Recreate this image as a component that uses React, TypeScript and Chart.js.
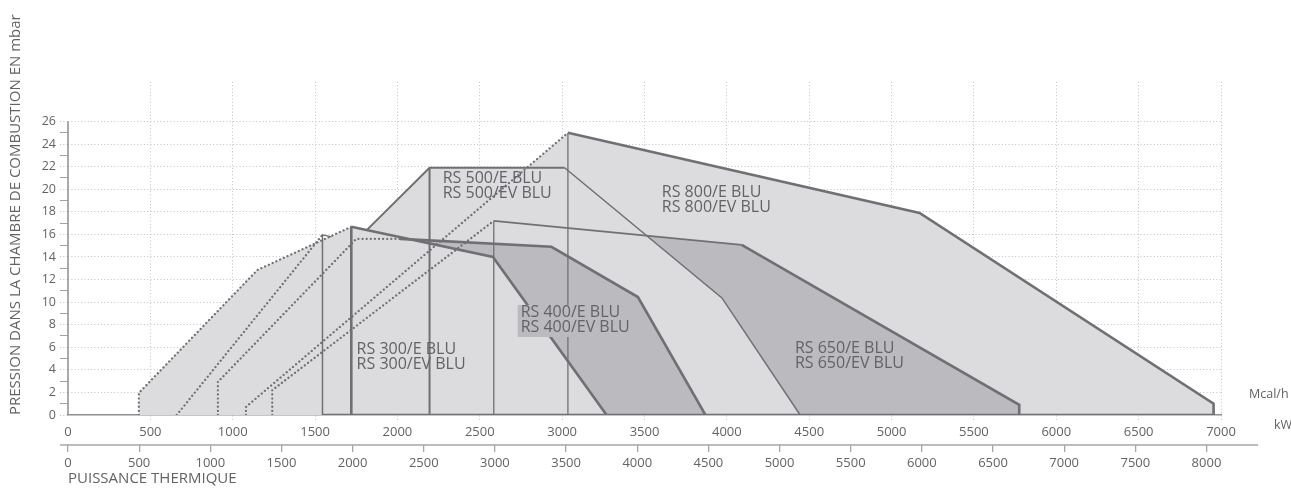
import React, { useEffect, useRef } from 'react';
import { Chart, registerables } from 'chart.js';

Chart.register(...registerables);

// ---- tick labels ----
const mcalTicks = [0, 500, 1000, 1500, 2000, 2500, 3000, 3500, 4000, 4500, 5000, 5500, 6000, 6500, 7000];
const kwTicks = [0, 500, 1000, 1500, 2000, 2500, 3000, 3500, 4000, 4500, 5000, 5500, 6000, 6500, 7000, 7500, 8000];
const pressureTicks = [0, 2, 4, 6, 8, 10, 12, 14, 16, 18, 20, 22, 24, 26];

// ---- working fields (x: Mcal/h, y: mbar) ----
const rs800Field = [[1080, 0], [1080, 0.71], [3035, 25.0], [5170, 17.9], [6955, 1.0], [6955, 0]];
const rs650Field = [[1240, 0], [1240, 2.2], [2585, 17.2], [4090, 15.07], [5775, 0.9], [5775, 0]];
const rs500Field = [[430, 0], [430, 1.95], [1150, 12.85], [1815, 16.4], [2195, 21.9], [3015, 21.9], [3970, 10.37], [4445, 0]];
const rs400Field = [[910, 0], [910, 2.93], [1750, 15.6], [2015, 15.6], [2935, 14.9], [3460, 10.45], [3870, 0]];
const rs300Field = [[430, 0], [430, 1.95], [1150, 12.85], [1720, 16.67], [2580, 14.0], [3270, 0]];

// ---- outlines ----
const rs800Dotted = [[1080, 0], [1080, 0.71], [3035, 25.0]];
const rs800Min = [[3035, 0], [3035, 25.0]];
const rs800Max = [[3035, 25.0], [5170, 17.9], [6955, 1.0], [6955, 0]];
const rs650Dotted = [[1240, 0], [1240, 2.2], [2585, 17.2]];
const rs650Min = [[2585, 0], [2585, 17.2]];
const rs650MaxA = [[2585, 17.2], [4090, 15.07]];
const rs650MaxB = [[4090, 15.07], [5775, 0.9], [5775, 0]];
const rs500Min = [[2195, 0], [2195, 21.9]];
const rs500MaxA = [[1815, 16.4], [2195, 21.9], [3015, 21.9]];
const rs500MaxB = [[3015, 21.9], [3970, 10.37], [4445, 0]];
const rs400Dotted = [[910, 0], [910, 2.93], [1750, 15.6], [2015, 15.6]];
const rs400Max = [[2015, 15.6], [2935, 14.9], [3460, 10.45], [3870, 0]];
const rs300Dotted = [[430, 0], [430, 1.95], [1150, 12.85], [1720, 16.67]];
const rs300EvDotted = [[660, 0], [1545, 15.96]];
const rs300EvMin = [[1545, 0], [1545, 15.96], [1600, 15.78]];
const rs300Min = [[1720, 0], [1720, 16.67]];
const rs300Max = [[1720, 16.67], [2580, 14.0], [3270, 0]];
const baseLine = [[1545, 0], [6955, 0]];

// ---- field labels ----
const labelNames = [
  ['RS 300/E BLU', 'RS 300/EV BLU'],
  ['RS 400/E BLU', 'RS 400/EV BLU'],
  ['RS 500/E BLU', 'RS 500/EV BLU'],
  ['RS 650/E BLU', 'RS 650/EV BLU'],
  ['RS 800/E BLU', 'RS 800/EV BLU'],
];
const labelX = [1752, 2748, 2275, 4413, 3605];
const labelY = [5.8, 9.1, 20.95, 5.9, 19.75];

const LIGHT = '#dcdcdf';
const DARK = '#bbbbbf';
const LINE = '#707074';
const GRID = '#c2c2c5';
const TEXT = '#636367';
const FONT = "'Open Sans', 'DejaVu Sans', sans-serif";

const toPts = (arr: number[][]) => arr.map(([x, y]) => ({ x, y }));

function fillDs(pts: number[][], color: string, order: number) {
  return {
    data: toPts(pts),
    showLine: true,
    fill: 'origin',
    backgroundColor: color,
    borderColor: 'rgba(0,0,0,0)',
    borderWidth: 0,
    pointRadius: 0,
    order,
  };
}

function lineDs(pts: number[][], width: number, order: number, dotted = false) {
  return {
    data: toPts(pts),
    showLine: true,
    fill: false,
    borderColor: LINE,
    borderWidth: width,
    pointRadius: 0,
    order,
    borderDash: dotted ? [0.01, 4.1] : [],
    borderCapStyle: dotted ? 'round' : 'butt',
    borderJoinStyle: 'miter',
  };
}

const decor = {
  id: 'decor',
  afterDatasetsDraw(chart: any) {
    const { ctx, chartArea, scales } = chart;
    const x = scales.x;
    const y = scales.y;
    const x2 = scales.x2;
    ctx.save();
    // y axis line (0..26)
    ctx.strokeStyle = '#8e8e92';
    ctx.lineWidth = 1.5;
    ctx.beginPath();
    ctx.moveTo(chartArea.left, y.getPixelForValue(26));
    ctx.lineTo(chartArea.left, y.getPixelForValue(0));
    ctx.stroke();
    // second axis line
    ctx.strokeStyle = '#a6a6a9';
    ctx.beginPath();
    ctx.moveTo(chartArea.left - 8, x2.top);
    ctx.lineTo(chartArea.right + 37, x2.top);
    ctx.stroke();

    // RS400 label background
    ctx.fillStyle = DARK;
    const bx = x.getPixelForValue(2730);
    const by = y.getPixelForValue(9.75);
    ctx.fillRect(bx, by, x.getPixelForValue(3230) - bx, y.getPixelForValue(6.91) - by);

    // field labels
    ctx.fillStyle = TEXT;
    ctx.font = `16px ${FONT}`;
    ctx.textAlign = 'left';
    ctx.textBaseline = 'middle';
    labelNames.forEach((lines, i) => {
      const px = x.getPixelForValue(labelX[i]);
      const py = y.getPixelForValue(labelY[i]);
      lines.forEach((t, j) => ctx.fillText(t, px, py + j * 15));
    });

    // unit labels
    ctx.font = `12.5px ${FONT}`;
    ctx.fillText('Mcal/h', chartArea.right + 28, y.getPixelForValue(0) - 21);
    ctx.fillText('kW', chartArea.right + 53, y.getPixelForValue(0) + 10);
    ctx.restore();
  },
};

export default function App() {
  const ref = useRef<HTMLCanvasElement>(null);

  useEffect(() => {
    if (!ref.current) return;
    Chart.defaults.font.family = FONT;
    Chart.defaults.color = TEXT;
    const minor = Array.from({ length: 27 }, (_, i) => i);

    const chart = new Chart(ref.current, {
      type: 'scatter',
      data: {
        datasets: [
          fillDs(rs800Field, LIGHT, 100),
          fillDs(rs650Field, DARK, 99),
          fillDs(rs500Field, LIGHT, 98),
          fillDs(rs400Field, DARK, 97),
          fillDs(rs300Field, LIGHT, 96),
          lineDs(rs800Dotted, 2.3, 20, true),
          lineDs(rs650Dotted, 2.3, 20, true),
          lineDs(rs400Dotted, 2.3, 20, true),
          lineDs(rs300Dotted, 2.3, 20, true),
          lineDs(rs300EvDotted, 2.3, 20, true),
          lineDs(rs800Min, 1.3, 10),
          lineDs(rs650Min, 1.3, 10),
          lineDs(rs300EvMin, 1.5, 10),
          lineDs(rs500Min, 2, 10),
          lineDs(rs500MaxA, 2, 10),
          lineDs(rs500MaxB, 1.5, 10),
          lineDs(rs650MaxA, 1.6, 10),
          lineDs(rs650MaxB, 2.6, 10),
          lineDs(rs800Max, 2.6, 10),
          lineDs(rs400Max, 2.6, 10),
          lineDs(rs300Min, 2.6, 10),
          lineDs(rs300Max, 2.6, 10),
          lineDs(baseLine, 2.6, 5),
        ] as any,
      },
      options: {
        animation: false,
        responsive: false,
        devicePixelRatio: 1,
        layout: { padding: { top: 82, right: 70, left: 0, bottom: 0 } },
        plugins: { legend: { display: false }, tooltip: { enabled: false } },
        scales: {
          x: {
            type: 'linear',
            position: 'bottom',
            weight: 0,
            min: 0,
            max: 7000,
            afterBuildTicks: (s: any) => { s.ticks = mcalTicks.map((v) => ({ value: v })); },
            afterFit: (s: any) => { s.height = 30; },
            ticks: { autoSkip: false, maxRotation: 0, padding: 3, font: { size: 13 }, color: TEXT, callback: (v: any) => String(v) },
            grid: {
              color: (c: any) => (c.tick && c.tick.value === 0 ? 'rgba(0,0,0,0)' : GRID),
              lineWidth: 1,
              tickLength: 6,
              tickColor: (c: any) => (c.tick && c.tick.value === 0 ? 'rgba(0,0,0,0)' : GRID),
              tickBorderDash: [1, 2.3],
            },
            border: { display: true, color: '#8e8e92', width: 1.5, dash: [1, 2.3] },
          },
          x2: {
            type: 'linear',
            position: 'bottom',
            weight: 1,
            min: 0,
            max: 8102,
            afterBuildTicks: (s: any) => { s.ticks = kwTicks.map((v) => ({ value: v })); },
            afterFit: (s: any) => { s.height = 43; },
            ticks: { autoSkip: false, maxRotation: 0, padding: 3, font: { size: 13 }, color: TEXT, callback: (v: any) => String(v) },
            grid: { drawOnChartArea: false, tickLength: 7, tickColor: '#a6a6a9', lineWidth: 1.3 },
            border: { display: false },
            title: { display: true, text: 'PUISSANCE THERMIQUE', align: 'start', color: TEXT, font: { size: 15 }, padding: { top: 0, bottom: 0 } },
          },
          y: {
            type: 'linear',
            position: 'left',
            min: 0,
            max: 29.5,
            afterBuildTicks: (s: any) => { s.ticks = minor.map((v) => ({ value: v })); },
            afterFit: (s: any) => { s.width = 68; },
            ticks: {
              autoSkip: false,
              padding: 4,
              font: { size: 12.5 },
              color: TEXT,
              callback: (v: any) => (pressureTicks.includes(v) ? String(v) : ''),
            },
            grid: {
              color: (c: any) => (c.tick && c.tick.value % 2 === 0 && c.tick.value > 0 ? GRID : 'rgba(0,0,0,0)'),
              lineWidth: 1,
              tickLength: 8,
              tickColor: (c: any) => (c.tick && c.tick.value % 2 === 0 ? GRID : '#a2a2a5'),
              tickBorderDash: (c: any) => (c.tick && c.tick.value % 2 === 0 ? [1, 2.3] : []),
            },
            border: { display: false, dash: [1, 2.3] },
            title: {
              display: true,
              text: 'PRESSION DANS LA CHAMBRE DE COMBUSTION EN mbar',
              align: 'start',
              color: TEXT,
              font: { size: 15 },
              padding: { top: 7, bottom: 0 },
            },
          },
        },
      } as any,
      plugins: [decor],
    });
    return () => chart.destroy();
  }, []);

  return (
    <div style={{ position: 'fixed', left: 0, top: 0, width: 1291, height: 488, background: '#fff' }}>
      <canvas ref={ref} width={1291} height={488} style={{ display: 'block', width: 1291, height: 488 }} />
    </div>
  );
}
